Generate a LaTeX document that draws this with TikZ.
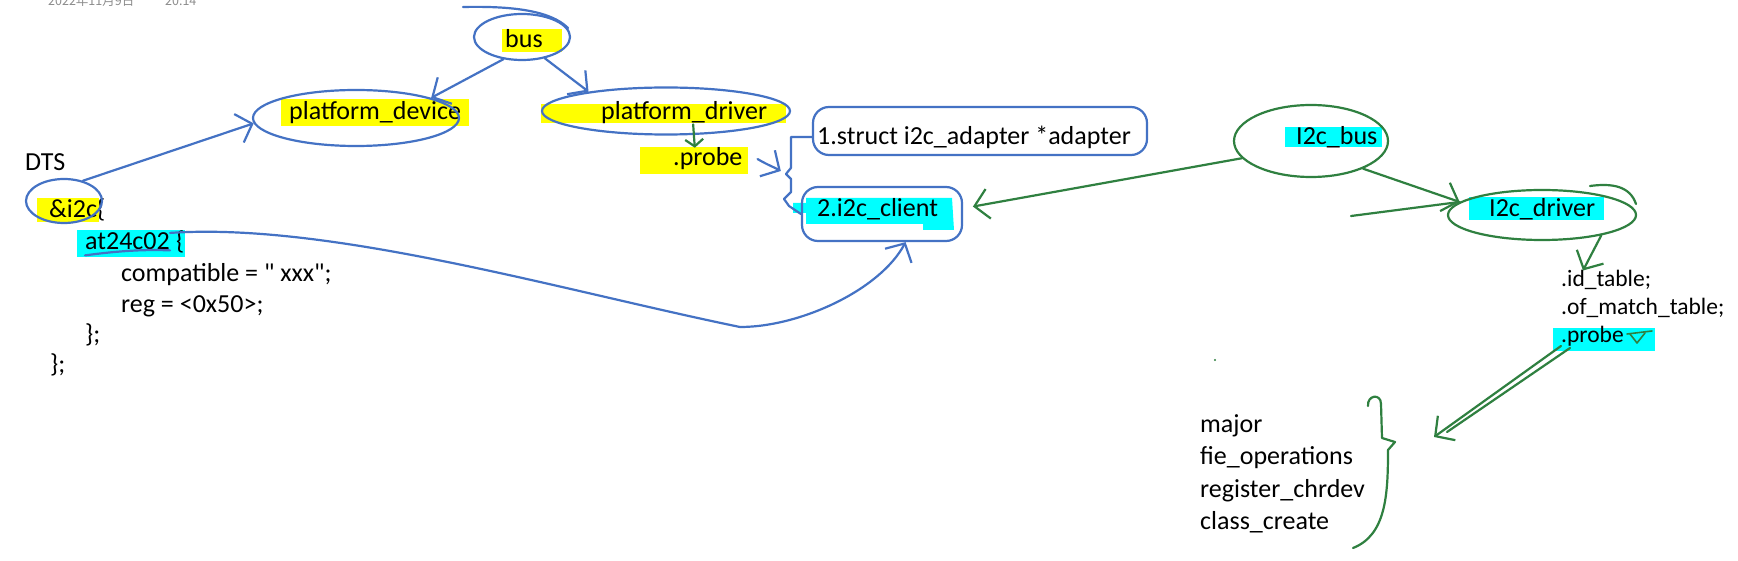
\documentclass[tikz,border=0pt]{standalone}
\usepackage{fontspec}
\setmainfont{Carlito}
\newfontfamily\cjkfont{Noto Sans CJK SC}
\usepackage{xcolor}
\definecolor{ink}{HTML}{4472C4}
\definecolor{greenink}{HTML}{2F8040}
\definecolor{hlyellow}{HTML}{FFFF00}
\definecolor{hlcyan}{HTML}{00FFFF}
\definecolor{stampgray}{HTML}{8C8C8C}
\usetikzlibrary{arrows.meta, shapes.geometric, positioning, calc}

\begin{document}
\begin{tikzpicture}[x=1pt, y=-1pt, >={Straight Barb[length=14pt,width=30pt]},
  txt/.style={inner sep=0pt, anchor=base west, font=\fontsize{26}{31}\selectfont},
  smalltxt/.style={inner sep=0pt, anchor=base west, font=\fontsize{23.5}{28}\selectfont},
  ring/.style={draw=ink, line width=2.2pt, ellipse, inner sep=0pt},
  box/.style={draw=ink, line width=2.2pt, rounded corners=16pt, inner sep=0pt},
  blue line/.style={draw=ink, line width=2.2pt, line cap=round, line join=round},
  green line/.style={draw=greenink, line width=2.2pt, line cap=round, line join=round}]

  \useasboundingbox[fill=white] (0,0) rectangle (1738,561);

  % highlights
  \fill[hlyellow] (502,29) rectangle (562,52);
  \fill[hlyellow] (281,99) rectangle (469,126);
  \fill[hlyellow] (541,104) rectangle (786,123);
  \fill[hlyellow] (640,147) rectangle (748,174);
  \fill[hlyellow] (37,198) rectangle (99,222);
  \fill[hlcyan] (77,230) rectangle (185,257);
  \fill[hlcyan] (793,203) -- (806,203) -- (806,198) -- (952,198) -- (954,230)
    -- (923,230) -- (923,224) -- (806,224) -- (806,213) -- (793,213) -- cycle;
  \fill[hlcyan] (1285,127) rectangle (1382,147);
  \fill[hlcyan] (1469,197) rectangle (1604,220);
  \fill[hlcyan] (1553,328) rectangle (1655,351);

  % time stamp
  \node[inner sep=0pt, anchor=base west, text=stampgray,
        font=\cjkfont\fontsize{12.5}{14}\selectfont] (stampdate) at (48,6) {2022年11月9日};
  \node[inner sep=0pt, anchor=base west, text=stampgray,
        font=\cjkfont\fontsize{12.5}{14}\selectfont] (stamptime) at (165,6) {20:14};

  % platform side
  \node[txt] (bustxt) at (505,48) {bus};
  \node[txt] (pdevtxt) at (289,120) {platform\_device};
  \node[txt] (pdrvtxt) at (601,120) {platform\_driver};
  \node[txt] (probeA) at (673,166) {.probe};
  \node[txt] (adaptertxt) at (817,145) {1.struct i2c\_adapter *adapter};
  \node[txt] (clienttxt) at (817,217) {2.i2c\_client};

  % DTS
  \node[txt] (dts) at (25,171) {DTS};
  \node[txt] (i2cref) at (49,218) {\&i2c\{};
  \node[txt] (at24) at (85,250) {at24c02};
  \node[txt, right=6pt of at24.base east, anchor=base west] (at24brace) {\{};
  \node[txt] (compat) at (121,282) {compatible = \textquotedbl{} xxx\textquotedbl;};
  \node[txt, below=31pt of compat.base west, anchor=base west] (regline) {reg = <0x50>;};
  \node[txt] (close1) at (85,342) {\};};
  \node[txt] (close2) at (50,372) {\};};

  % i2c side
  \node[txt] (i2cbustxt) at (1296,145) {I2c\_bus};
  \node[txt] (i2cdrvtxt) at (1489,217) {I2c\_driver};
  \node[smalltxt] (idtable) at (1561,287) {.id\_table;};
  \node[smalltxt, below=28pt of idtable.base west, anchor=base west] (ofmatch) {.of\_match\_table;};
  \node[smalltxt, below=27pt of ofmatch.base west, anchor=base west] (probeB) {.probe};
  \node[txt] (major) at (1200,432) {major};
  \node[txt, below=32pt of major.base west, anchor=base west] (fops) {fie\_operations};
  \node[txt, below=33pt of fops.base west, anchor=base west] (regchr) {register\_chrdev};
  \node[txt, below=32pt of regchr.base west, anchor=base west] (clscreate) {class\_create};

  % rings
  \node[ring, minimum width=96pt, minimum height=46pt] (busring) at (522,37) {};
  \node[ring, minimum width=206pt, minimum height=56pt] (pdevring) at (356,118) {};
  \node[ring, minimum width=248pt, minimum height=47pt] (pdrvring) at (666,111) {};
  \node[box, minimum width=334pt, minimum height=48pt] (adapterbox) at (980,131) {};
  \node[box, minimum width=160pt, minimum height=54pt] (clientbox) at (882,214) {};
  \node[ring, minimum width=76pt, minimum height=44pt] (i2cring) at (64,201) {};
  \node[ring, draw=greenink, minimum width=154pt, minimum height=72pt] (i2cbusring) at (1311,141) {};
  \node[ring, draw=greenink, minimum width=188pt, minimum height=50pt] (i2cdrvring) at (1542,215) {};

  % blue strokes
  \draw[blue line] (463,7) .. controls (510,6) and (550,10) .. (568,28);
  \draw[blue line, ->] (busring.230) -- (pdevring.15);
  \draw[blue line, ->] (busring.-43) -- (pdrvring.166);
  \draw[blue line, ->] (i2cring.47) -- (pdevring.183);
  \draw[blue line] ([yshift=-5pt]at24.south west) .. controls (110,252) and (140,249) .. (at24.south east);

  \coordinate (jn) at (786,174);
  \draw[blue line, ->, shorten >=6pt] ([xshift=15pt]probeA.east) to[out=-30, in=150] (jn);
  \draw[blue line] ([yshift=-6pt]adapterbox.west) -- ++(-21,0) -- ++(0,31) -- (jn)
    -- ++(5,5) -- ++(0,13) -- ++(-7,7) -- ++(5,7) -- (clientbox.west);

  \draw[blue line, ->] (at24.north east) .. controls (330,222) and (560,290) .. (740,327)
    .. controls (800,327) and (880,290) .. (clientbox.-50);

  % green strokes
  \draw[green line, >={Straight Barb[length=7pt,width=18pt]}, ->]
    ([xshift=9pt]pdrvtxt.south) -- ([xshift=-13pt]probeA.north);
  \draw[green line, ->, shorten >=10pt] (i2cbusring.194) -- (clientbox.4);
  \draw[green line, ->] (i2cbusring.-28) -- (i2cdrvring.171);
  \coordinate (longbarb) at (1351,216);
  \draw[green line] (i2cdrvring.171) -- (longbarb);
  \draw[green line] (1590,186) .. controls (1612,183) and (1630,186) .. (1636,204);
  \draw[green line, ->] (i2cdrvring.-19) -- ([xshift=22pt]idtable.north west);

  \draw[green line, line width=1.6pt] (1627,334) -- (1652,331);
  \draw[green line, line width=1.6pt] (1630,334) -- (1637,343) -- (1645,333);

  \coordinate (bracetip) at (1395,442);
  \draw[green line, ->] (probeB.south west) -- ([xshift=39pt,yshift=5pt]bracetip);
  \draw[green line] ([xshift=9pt,yshift=-2pt]probeB.south west) -- ($(bracetip)+(52,-10)$);
  \draw[green line] (1368,406) .. controls (1367,395) and (1381,393) .. (1381,404)
    -- (1382,438) -- (bracetip) -- (1388,450)
    .. controls (1388,495) and (1386,535) .. (1353,548);
  \fill[greenink] (1215,360) circle (1.2);

\end{tikzpicture}
\end{document}
